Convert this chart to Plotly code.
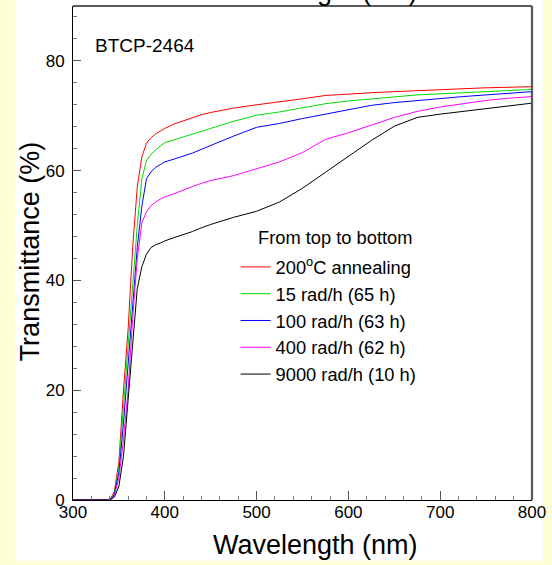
import plotly.graph_objects as go

wavelength = [300, 320, 340, 345, 350, 355, 360, 365, 370, 375, 380, 385, 390, 395, 400,
              410, 420, 430, 440, 450, 475, 500, 525, 550, 575, 600, 625, 650, 675, 700,
              725, 750, 775, 800]

t_anneal = [0, 0, 0, 1.5, 7, 20, 31, 46, 57, 62.5, 65.0, 66.0, 66.7, 67.2, 67.7,
            68.5, 69.1, 69.6, 70.2, 70.6, 71.4, 72.0, 72.5, 73.1, 73.7, 74.0, 74.2, 74.4, 74.6, 74.7,
            74.9, 75.1, 75.2, 75.3]
t_15 = [0, 0, 0, 1.2, 6, 17, 28, 39, 50, 58.5, 61.8, 63.0, 63.8, 64.5, 65.1,
        65.6, 66.1, 66.6, 67.2, 67.7, 69.0, 70.1, 70.7, 71.5, 72.2, 72.7, 73.1, 73.5, 73.8, 74.0,
        74.2, 74.4, 74.6, 74.8]
t_100 = [0, 0, 0, 1.0, 5, 14, 25, 36, 46, 53.5, 58.5, 59.8, 60.6, 61.1, 61.6,
         62.1, 62.6, 63.2, 63.9, 64.6, 66.3, 67.9, 68.6, 69.5, 70.3, 71.1, 71.9, 72.4, 72.8, 73.2,
         73.5, 73.8, 74.1, 74.4]
t_400 = [0, 0, 0, 0.8, 4, 11, 20, 33, 44, 50.5, 52.5, 53.6, 54.3, 54.8, 55.2,
         55.8, 56.5, 57.1, 57.7, 58.2, 59.1, 60.3, 61.6, 63.3, 65.7, 66.9, 68.3, 69.7, 70.8, 71.6,
         72.2, 72.8, 73.2, 73.5]
t_9000 = [0, 0, 0, 0.5, 2.5, 8, 18, 29, 38.5, 42.5, 44.8, 46.0, 46.5, 46.8, 47.2,
          47.8, 48.3, 48.9, 49.6, 50.2, 51.5, 52.6, 54.3, 56.8, 59.7, 62.6, 65.5, 68.1, 69.7, 70.3,
          70.8, 71.4, 71.8, 72.3]

series_names = ["200<sup>o</sup>C annealing", "15 rad/h (65 h)", "100 rad/h (63 h)",
                "400 rad/h (62 h)", "9000 rad/h (10 h)"]
series_values = [t_anneal, t_15, t_100, t_400, t_9000]
series_colors = ["#ff0000", "#00dd00", "#0000ff", "#ff00ff", "#000000"]

x_ticks = [300, 400, 500, 600, 700, 800]
y_ticks = [0, 20, 40, 60, 80]

FONT = "Liberation Sans, Arial, Helvetica, sans-serif"

fig = go.Figure()
for name, vals, col in zip(series_names, series_values, series_colors):
    fig.add_trace(go.Scatter(x=wavelength, y=vals, mode="lines", name=name,
                             line=dict(color=col, width=1)))

W, H = 552, 565
L, R, T, B = 73, 16, 6, 65
pw, ph = W - L - R, H - T - B

def px(xp):
    return (xp - L) / pw

def py(yp):
    return (H - B - yp) / ph

fig.update_layout(
    width=W, height=H,
    margin=dict(l=L, r=R, t=T, b=B, pad=0),
    paper_bgcolor="#ffffd6",
    plot_bgcolor="white",
    font=dict(family=FONT, color="black", size=17),
    showlegend=True,
    legend=dict(x=px(237), y=py(248.5), xanchor="left", yanchor="top",
                bgcolor="rgba(0,0,0,0)", borderwidth=0,
                font=dict(size=18.3, family=FONT),
                traceorder="normal"),
    xaxis=dict(range=[300, 800], tickvals=x_ticks, ticks="inside", ticklen=9,
               tickcolor="#555", tickwidth=1, showline=True, linecolor="black",
               linewidth=1, showgrid=False, zeroline=False, mirror=False,
               tickfont=dict(size=17), ticklabelstandoff=-3,
               minor=dict(dtick=20, tick0=300, ticks="inside", ticklen=4.5,
                          tickcolor="#777", showgrid=False)),
    yaxis=dict(range=[0, 90], tickvals=y_ticks, ticks="inside", ticklen=8,
               tickcolor="#555", tickwidth=1, showline=True, linecolor="black",
               linewidth=1, showgrid=False, zeroline=False, mirror=False,
               tickfont=dict(size=17), ticklabelstandoff=4,
               minor=dict(dtick=4, tick0=0, ticks="inside", ticklen=4,
                          tickcolor="#777", showgrid=False)),
    shapes=[
        dict(type="rect", xref="paper", yref="paper", x0=px(15), x1=px(547),
             y0=py(561), y1=py(-5), fillcolor="white", line=dict(width=0), layer="below"),
        dict(type="line", xref="paper", yref="paper", x0=1, x1=1, y0=0, y1=1,
             line=dict(color="#5a5a5a", width=2.3)),
        dict(type="line", xref="paper", yref="paper", x0=0, x1=1, y0=1, y1=1,
             line=dict(color="#5a5a5a", width=2)),
    ],
    annotations=[
        dict(text="Wavelength (nm)", xref="paper", yref="paper", x=px(317.5), y=py(545),
             xanchor="center", yanchor="middle", showarrow=False, font=dict(size=27)),
        dict(text="Wavelength (nm)", xref="paper", yref="paper", x=px(317.5), y=py(-9.5),
             xanchor="center", yanchor="middle", showarrow=False, font=dict(size=27)),
        dict(text="Transmittance (%)", xref="paper", yref="paper", x=px(30), y=py(251),
             xanchor="center", yanchor="middle", textangle=-90, showarrow=False,
             font=dict(size=27)),
        dict(text="BTCP-2464", xref="paper", yref="paper", x=px(93), y=py(45),
             xanchor="left", yanchor="middle", showarrow=False, font=dict(size=19)),
        dict(text="From top to bottom", xref="paper", yref="paper", x=px(258), y=py(237),
             xanchor="left", yanchor="middle", showarrow=False, font=dict(size=18.3)),
    ],
)

fig.write_html("out.html")
